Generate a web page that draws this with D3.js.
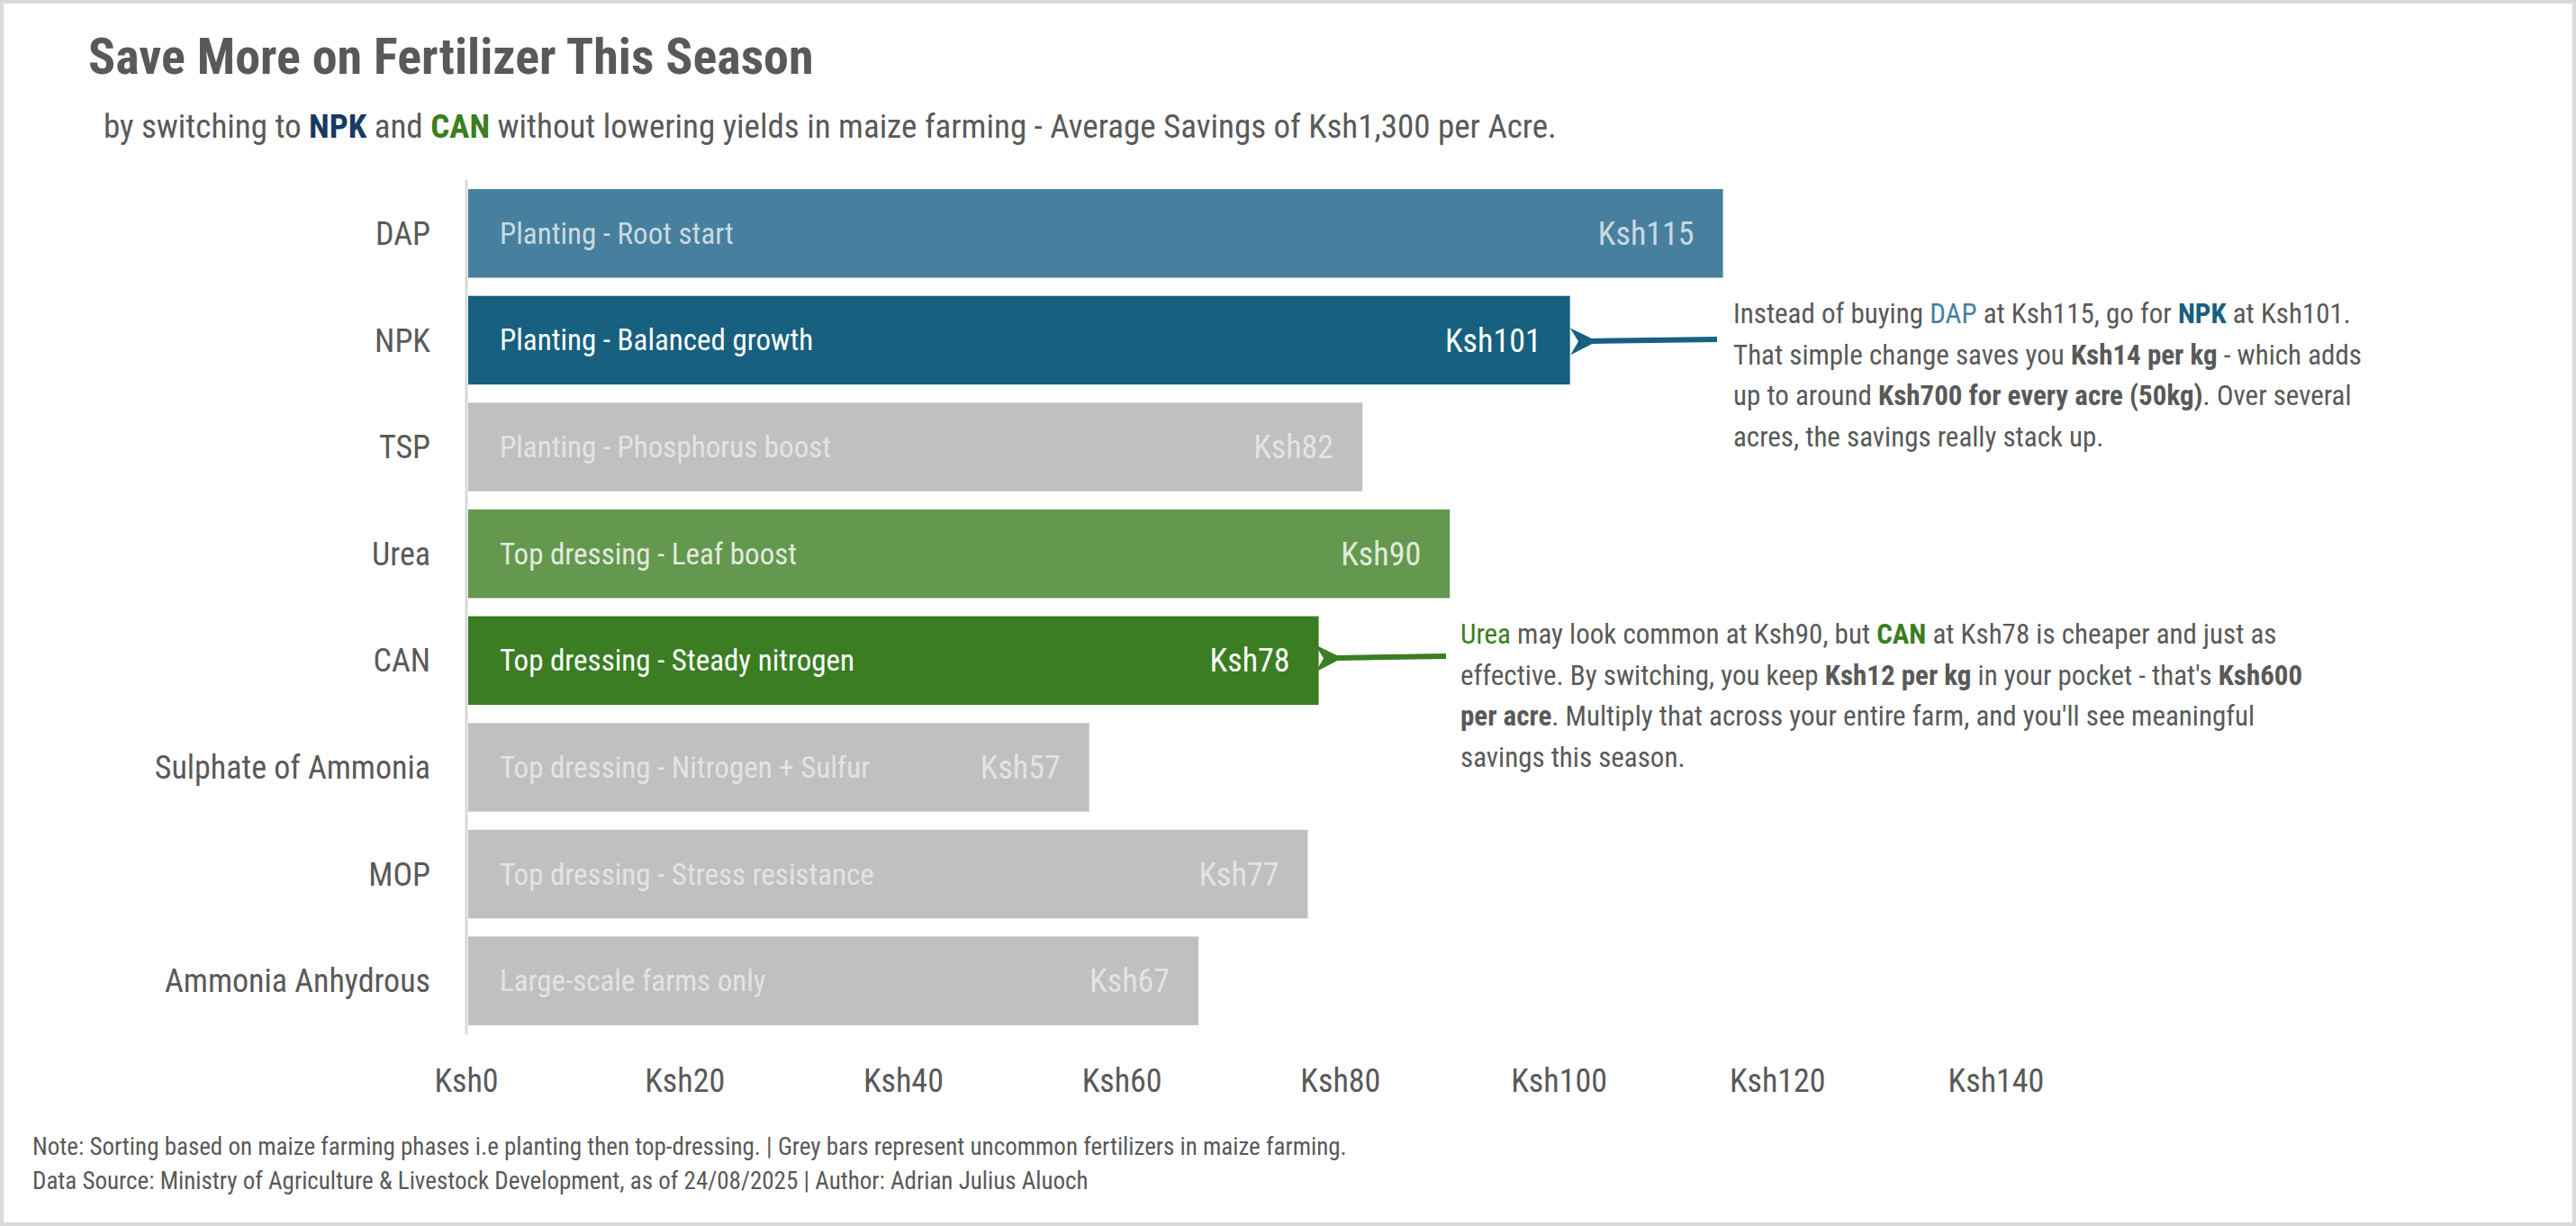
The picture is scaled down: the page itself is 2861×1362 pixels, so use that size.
<!DOCTYPE html>
<html><head><meta charset="utf-8">
<script src="https://cdn.jsdelivr.net/npm/d3@7"></script>
<style>
body{margin:0;background:#fff;}
svg text{font-family:"Roboto Condensed","Liberation Sans Narrow","Roboto",sans-serif;}
</style></head>
<body><svg id="chart" width="2861" height="1362"></svg>
<script>
var fertilizers = ["DAP","NPK","TSP","Urea","CAN","Sulphate of Ammonia","MOP","Ammonia Anhydrous"];
var prices = [115,101,82,90,78,57,77,67];
var uses = ["Planting - Root start","Planting - Balanced growth","Planting - Phosphorus boost","Top dressing - Leaf boost","Top dressing - Steady nitrogen","Top dressing - Nitrogen + Sulfur","Top dressing - Stress resistance","Large-scale farms only"];
var barColors = ["#46809e","#17607f","#c0c0c0","#64984f","#3a7d23","#c0c0c0","#c0c0c0","#c0c0c0"];
var textColors = ["#cbd9e1","#ffffff","#e3e3e3","#e2eadd","#ffffff","#e3e3e3","#e3e3e3","#e3e3e3"];
var xTicks = [0,20,40,60,80,100,120,140];

var grey = "#595959";
var svg = d3.select("#chart");
svg.append("rect").attr("x",2).attr("y",2).attr("width",2857).attr("height",1358)
  .attr("fill","#fff").attr("stroke","#d9d9d9").attr("stroke-width",4);

var x = d3.scaleLinear().domain([0,140]).range([518,2217]);
var y = d3.scaleBand().domain(fertilizers).range([200,1149]).paddingInner(0.17).paddingOuter(0.085);

// titles
svg.append("text").attr("x",98).attr("y",82).attr("font-size",56).attr("font-weight",700)
  .attr("fill",grey).text("Save More on Fertilizer This Season");
var sub = svg.append("text").attr("x",115).attr("y",153).attr("font-size",37).attr("fill",grey);
sub.append("tspan").text("by switching to ");
sub.append("tspan").attr("font-weight",700).attr("fill","#173a63").text("NPK");
sub.append("tspan").text(" and ");
sub.append("tspan").attr("font-weight",700).attr("fill","#3a7d23").text("CAN");
sub.append("tspan").text(" without lowering yields in maize farming - Average Savings of Ksh1,300 per Acre.");

// axis line
svg.append("line").attr("x1",518).attr("x2",518).attr("y1",200).attr("y2",1149)
  .attr("stroke","#d9d9d9").attr("stroke-width",3);

var rows = svg.selectAll("g.row").data(fertilizers).enter().append("g").attr("class","row");
rows.append("rect").attr("x",x(0)+2).attr("y",d=>y(d))
  .attr("width",(d,i)=>x(prices[i])-x(0)-2).attr("height",y.bandwidth())
  .attr("fill",(d,i)=>barColors[i]);
rows.append("text").attr("x",478).attr("y",d=>y(d)+y.bandwidth()/2).attr("dy","0.35em")
  .attr("text-anchor","end").attr("font-size",36).attr("fill",grey).text(d=>d);
rows.append("text").attr("x",555).attr("y",d=>y(d)+y.bandwidth()/2).attr("dy","0.35em")
  .attr("font-size",33).attr("fill",(d,i)=>textColors[i]).text((d,i)=>uses[i]);
rows.append("text").attr("x",(d,i)=>x(prices[i])-32).attr("y",d=>y(d)+y.bandwidth()/2).attr("dy","0.35em")
  .attr("text-anchor","end").attr("font-size",36).attr("fill",(d,i)=>textColors[i]).text((d,i)=>"Ksh"+prices[i]);

// x ticks
svg.selectAll("text.tick").data(xTicks).enter().append("text").attr("class","tick")
  .attr("x",d=>x(d)).attr("y",1213).attr("text-anchor","middle").attr("font-size",36)
  .attr("fill",grey).text(d=>"Ksh"+d);

// arrows
var defs = svg.append("defs");
[["arrBlue","#17607f"],["arrGreen","#3a7d23"]].forEach(function(a){
  defs.append("marker").attr("id",a[0]).attr("viewBox","0 0 10 10").attr("refX",2).attr("refY",5)
    .attr("markerWidth",5).attr("markerHeight",5).attr("orient","auto")
    .append("path").attr("d","M10,0 L0,5 L10,10 L7,5 Z").attr("fill",a[1]);
});
svg.append("line").attr("x1",1907).attr("y1",377).attr("x2",1768).attr("y2",379)
  .attr("stroke","#17607f").attr("stroke-width",6).attr("marker-end","url(#arrBlue)");
svg.append("line").attr("x1",1606).attr("y1",729).attr("x2",1485).attr("y2",731)
  .attr("stroke","#3a7d23").attr("stroke-width",6).attr("marker-end","url(#arrGreen)");

// annotations
function note(xp, y0, lines){
  lines.forEach(function(parts,i){
    var t = svg.append("text").attr("x",xp).attr("y",y0+i*45.5).attr("font-size",31).attr("fill",grey);
    parts.forEach(function(p){
      var s = t.append("tspan").text(p[0]);
      if(p[1]) s.attr("font-weight",700);
      if(p[2]) s.attr("fill",p[2]);
    });
  });
}
note(1925,359,[
  [["Instead of buying "],["DAP",0,"#46809e"],[" at Ksh115, go for "],["NPK",1,"#17607f"],[" at Ksh101."]],
  [["That simple change saves you "],["Ksh14 per kg",1],[" - which adds"]],
  [["up to around "],["Ksh700 for every acre (50kg)",1],[". Over several"]],
  [["acres, the savings really stack up."]]
]);
note(1622,715,[
  [["Urea",0,"#3a7d23"],[" may look common at Ksh90, but "],["CAN",1,"#3a7d23"],[" at Ksh78 is cheaper and just as"]],
  [["effective. By switching, you keep "],["Ksh12 per kg",1],[" in your pocket - that's "],["Ksh600",1]],
  [["per acre",1],[". Multiply that across your entire farm, and you'll see meaningful"]],
  [["savings this season."]]
]);

// footnotes
svg.append("text").attr("x",36).attr("y",1283).attr("font-size",27).attr("fill",grey)
  .text("Note: Sorting based on maize farming phases i.e planting then top-dressing. | Grey bars represent uncommon fertilizers in maize farming.");
svg.append("text").attr("x",36).attr("y",1321).attr("font-size",27).attr("fill",grey)
  .text("Data Source: Ministry of Agriculture & Livestock Development, as of 24/08/2025 | Author: Adrian Julius Aluoch");
</script></body></html>
